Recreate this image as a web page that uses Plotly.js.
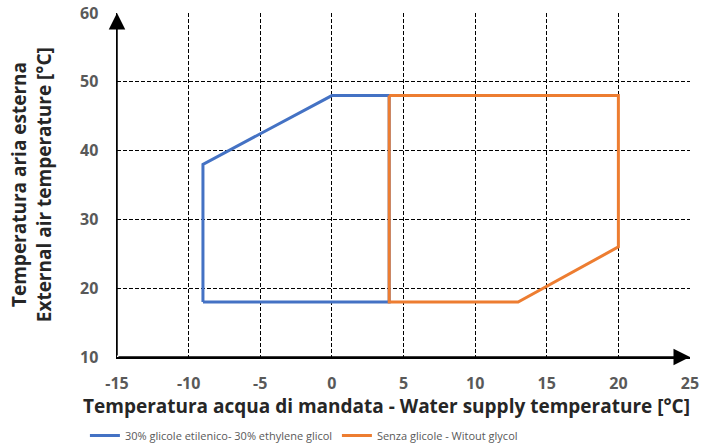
<!DOCTYPE html>
<html><head><meta charset="utf-8">
<script src="https://cdn.plot.ly/plotly-3.0.1.min.js"></script>
<style>body{margin:0;background:#fff}#c{width:702px;height:448px}</style>
</head><body><div id="c"></div>
<script>
const glycolName = '30% glicole etilenico- 30% ethylene glicol';
const glycolX = [-9, -9, 0, 4, 4, -9];
const glycolY = [18, 38, 48, 48, 18, 18];
const plainName = 'Senza glicole - Witout glycol';
const plainX = [4, 20, 20, 13, 4, 4];
const plainY = [48, 48, 26, 18, 18, 48];
const xTicks = [-15, -10, -5, 0, 5, 10, 15, 20, 25];
const yTicks = [10, 20, 30, 40, 50, 60];
const xTitle = 'Temperatura acqua di mandata - Water supply temperature [°C]';
const yTitle1 = 'Temperatura aria esterna';
const yTitle2 = 'External air temperature [°C]';

const font = '"Open Sans", "Liberation Sans", sans-serif';
const traces = [
  {x: glycolX, y: glycolY, name: glycolName, mode: 'lines', line: {color: '#4472C4', width: 3}},
  {x: plainX, y: plainY, name: plainName, mode: 'lines', line: {color: '#ED7D31', width: 3}}
];
const axisCommon = {
  showgrid: true, gridcolor: '#000', gridwidth: 1, griddash: '4px,2px',
  zeroline: false, showline: true, linecolor: '#000', linewidth: 1.5,
  ticks: '', tickfont: {family: font, size: 16, color: '#595959', weight: 'bold'}
};
const titleFont = {family: font, size: 19, color: '#262626', weight: 'bold'};
const layout = {
  width: 702, height: 448,
  margin: {l: 117, r: 12, t: 13, b: 91, autoexpand: false},
  paper_bgcolor: '#fff', plot_bgcolor: '#fff',
  showlegend: true,
  legend: {orientation: 'h', x: -0.056, xanchor: 'left', y: -0.186, yanchor: 'top',
    font: {family: font, size: 11, color: '#595959'}, itemwidth: 30,
    entrywidth: 207, entrywidthmode: 'pixels'},
  xaxis: Object.assign({}, axisCommon, {
    range: [-15, 25], tickvals: xTicks, ticktext: xTicks.map(String), ticklabelstandoff: 11
  }),
  yaxis: Object.assign({}, axisCommon, {
    range: [10, 60], tickvals: yTicks, ticktext: yTicks.map(String), ticklabelstandoff: 14
  }),
  annotations: [
    {x: -15, y: 60, ax: -15, ay: 10, xref: 'x', yref: 'y', axref: 'x', ayref: 'y',
     showarrow: true, arrowhead: 2, arrowsize: 2.2, arrowwidth: 1.5, arrowcolor: '#000', text: ''},
    {x: 25, y: 10, ax: -15, ay: 10, xref: 'x', yref: 'y', axref: 'x', ayref: 'y',
     showarrow: true, arrowhead: 2, arrowsize: 2.2, arrowwidth: 1.5, arrowcolor: '#000', text: ''},
    {text: xTitle, xref: 'paper', yref: 'paper', x: 0.47, y: -0.142, xanchor: 'center', yanchor: 'middle',
     showarrow: false, font: titleFont},
    {text: yTitle1, xref: 'paper', yref: 'paper', x: -0.171, y: 0.5, xanchor: 'center', yanchor: 'middle',
     textangle: -90, showarrow: false, font: titleFont},
    {text: yTitle2, xref: 'paper', yref: 'paper', x: -0.127, y: 0.5, xanchor: 'center', yanchor: 'middle',
     textangle: -90, showarrow: false, font: titleFont}
  ]
};
Plotly.newPlot('c', traces, layout, {displayModeBar: false, staticPlot: true});
</script></body></html>
